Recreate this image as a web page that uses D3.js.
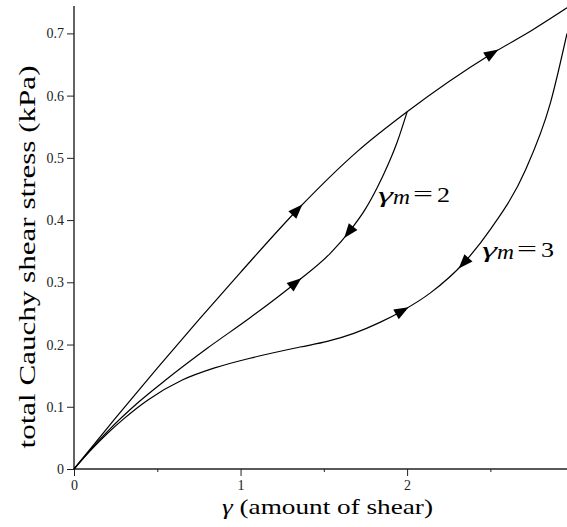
<!DOCTYPE html>
<html>
<head>
<meta charset="utf-8">
<script src="https://cdn.jsdelivr.net/npm/d3@7"></script>
<style>
  html, body { margin: 0; padding: 0; background: #fff; }
  svg { display: block; }
</style>
</head>
<body>
<svg id="chart" width="567" height="527"></svg>
<script>
// ---- data ----
const gammaMajorTicks = [0, 1, 2];
const gammaMinorTicks = [0.5, 1.5, 2.5];
const stressTicks = [0, 0.1, 0.2, 0.3, 0.4, 0.5, 0.6, 0.7];

const primaryGamma  = [0, 0.25, 0.5, 0.75, 1.0, 1.357, 1.7, 2.0, 2.5, 2.75, 2.96];
const primaryStress = [0, 0.082, 0.162, 0.24, 0.316, 0.421, 0.51, 0.574, 0.666, 0.705, 0.741];

const unload2Gamma  = [0, 0.1, 0.2, 0.39, 0.55, 0.8, 1.057, 1.33, 1.54, 1.66, 1.75, 1.82, 1.86, 1.94, 2.0];
const unload2Stress = [0, 0.031, 0.06, 0.108, 0.143, 0.194, 0.243, 0.299, 0.347, 0.384, 0.418, 0.452, 0.474, 0.525, 0.574];

const unload3Gamma  = [0, 0.1, 0.2, 0.3, 0.444, 0.65, 0.85, 1.057, 1.357, 1.52, 1.68, 1.84, 1.97, 2.14, 2.34, 2.5, 2.71, 2.86, 2.96];
const unload3Stress = [0, 0.03, 0.057, 0.081, 0.111, 0.143, 0.163, 0.178, 0.196, 0.205, 0.218, 0.236, 0.254, 0.283, 0.331, 0.385, 0.48, 0.588, 0.70];

const arrowSeries = ["primary", "primary", "unload2", "unload2", "unload3", "unload3"];
const arrowGamma  = [1.34, 2.51, 1.65, 1.33, 2.34, 1.97];
const arrowDir    = [1, 1, -1, 1, -1, 1];

const labelSeries = ["2", "3"];

// ---- layout ----
const SERIF = "'Liberation Serif', 'Times New Roman', Times, serif";
const svg = d3.select("#chart").attr("font-family", SERIF);
const x = d3.scaleLinear().domain([0, 2.96]).range([74, 567]);
const y = d3.scaleLinear().domain([0, 0.744]).range([469, 6]);

// axes
const xAxis = d3.axisBottom(x).tickValues(gammaMajorTicks).tickSize(7).tickFormat(d3.format("d"));
const xMinor = d3.axisBottom(x).tickValues(gammaMinorTicks).tickSize(3).tickFormat("");
const yAxis = d3.axisLeft(y).tickValues(stressTicks).tickSize(7).tickFormat(d => d === 0 ? "0" : d3.format(".1f")(d));

const gx = svg.append("g").attr("transform", `translate(0,${y(0)})`).call(xAxis);
const gm = svg.append("g").attr("transform", `translate(0,${y(0)})`).call(xMinor);
gm.select(".domain").remove();
gm.selectAll(".tick line").attr("stroke", "#222");
const gy = svg.append("g").attr("transform", `translate(${x(0)},0)`).call(yAxis);

[gx, gy].forEach(g => {
  g.attr("font-family", SERIF).attr("font-size", 14);
  g.select(".domain").attr("stroke", "#222").attr("stroke-width", 1.4);
  g.selectAll(".tick line").attr("stroke", "#222").attr("stroke-width", 1);
  g.selectAll(".tick text").attr("font-family", SERIF).attr("font-size", 14).attr("fill", "#222");
});
gx.select(".domain").attr("d", `M${x(0)},0H567`);
gy.select(".domain").attr("d", `M0,${y(0)}V${y(0.744)}`);
gx.selectAll(".tick text").attr("y", 11);
gy.selectAll(".tick text").attr("x", -10);

// axis titles
const xt = svg.append("text")
  .attr("x", 222).attr("y", 514)
  .attr("font-family", SERIF)
  .attr("font-size", 22)
  .attr("textLength", 211)
  .attr("lengthAdjust", "spacingAndGlyphs");
xt.append("tspan").attr("font-style", "italic").text("γ");
xt.append("tspan").text(" (amount of shear)");

svg.append("text")
  .attr("transform", `translate(35,${257}) rotate(-90)`)
  .attr("text-anchor", "middle")
  .attr("font-family", SERIF)
  .attr("font-size", 24)
  .attr("textLength", 383)
  .attr("lengthAdjust", "spacingAndGlyphs")
  .text("total Cauchy shear stress (kPa)");

// curves
const line = d3.line().x(d => x(d[0])).y(d => y(d[1])).curve(d3.curveMonotoneX);
const seriesData = {
  primary: d3.zip(primaryGamma, primaryStress),
  unload2: d3.zip(unload2Gamma, unload2Stress),
  unload3: d3.zip(unload3Gamma, unload3Stress)
};
const paths = {};
Object.keys(seriesData).forEach(k => {
  paths[k] = svg.append("path")
    .datum(seriesData[k])
    .attr("d", line)
    .attr("fill", "none")
    .attr("stroke", "#000")
    .attr("stroke-width", 1.2)
    .node();
});

// arrows
function lengthAtX(node, px) {
  const L = node.getTotalLength();
  let lo = 0, hi = L;
  for (let i = 0; i < 40; i++) {
    const mid = (lo + hi) / 2;
    if (node.getPointAtLength(mid).x < px) lo = mid; else hi = mid;
  }
  return lo;
}
arrowSeries.forEach((s, i) => {
  const node = paths[s];
  const len = lengthAtX(node, x(arrowGamma[i]));
  const p = node.getPointAtLength(len);
  const a = node.getPointAtLength(Math.max(0, len - 3));
  const b = node.getPointAtLength(len + 3);
  let ang = Math.atan2(b.y - a.y, b.x - a.x) * 180 / Math.PI;
  if (arrowDir[i] < 0) ang += 180;
  svg.append("path")
    .attr("d", "M7.5,0L-7,-5.5L-7,5.5Z")
    .attr("transform", `translate(${p.x},${p.y}) rotate(${ang})`)
    .attr("fill", "#000");
});

// labels (pieces placed relative to label origin)
const labelX = [378, 482];
const labelY = [202, 257];
labelSeries.forEach((v, i) => {
  const g = svg.append("g").attr("transform", `translate(${labelX[i]},${labelY[i]})`)
    .attr("font-family", SERIF).attr("font-size", 22);
  const piece = (txt, dx, dy, len, italic) => g.append("text")
    .attr("x", dx).attr("y", dy)
    .attr("font-style", italic ? "italic" : "normal")
    .attr("textLength", len).attr("lengthAdjust", "spacingAndGlyphs")
    .text(txt);
  piece("γ", 0, 0, 15, true);
  piece("m", 15, 2, 17, true);
  piece("=", 35, -1, 20, false);
  piece(v, 59, 0, 13, false);
});
</script>
</body>
</html>
